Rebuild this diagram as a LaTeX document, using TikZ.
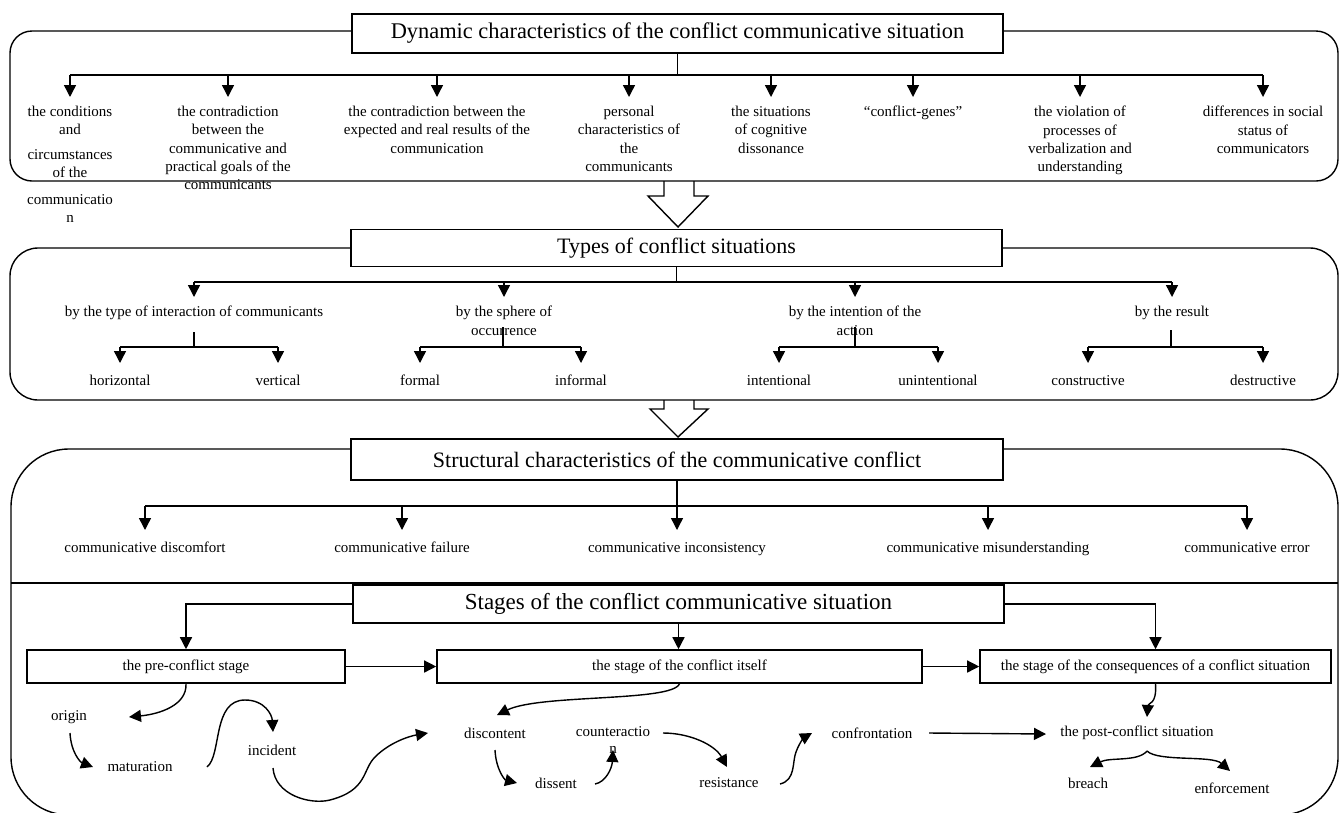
\documentclass[tikz,border=0pt]{standalone}
\usepackage{fontspec}
\setmainfont{Liberation Serif}
\usetikzlibrary{arrows.meta}
\begin{document}
\begin{tikzpicture}[x=1pt,y=-1pt,
  every node/.style={font=\fontsize{15}{18.3}\selectfont, inner sep=0pt},
  frame/.style={line width=1.4pt, rounded corners=#1},
  titlebox/.style={draw, line width=1.6pt, fill=white, minimum width=651pt, minimum height=39pt, font=\fontsize{22}{26}\selectfont},
  stagebox/.style={draw, line width=1.6pt, fill=white, minimum height=33pt},
  item/.style={align=center, anchor=north, inner ysep=9pt},
  leaf/.style={anchor=north, inner ysep=12pt},
  word/.style={align=center},
  conn/.style={line width=1.4pt},
  arr/.style={line width=1.4pt, -{Triangle[width=12pt,length=12pt]}},
  hollow/.style={line width=1.4pt},
]
\useasboundingbox (0,0) rectangle (1340,812);

% ---------- frames ----------
\draw[frame=22] (10,31) rectangle (1338,181);
\draw[frame=28] (10,248) rectangle (1338,400);
\draw[frame=58] (11,449) rectangle (1338,815);
\draw[conn] (11,583) -- (1338,583);

% ---------- hollow arrows ----------
\draw[hollow] (664,181) -- (664,196) -- (648,196) -- (678,227) -- (708,196) -- (694,196) -- (694,181);
\draw[hollow] (664,400) -- (664,409) -- (650,409) -- (678,437) -- (708,409) -- (694,409) -- (694,400);

% ---------- section 1 ----------
\node[titlebox, font=\fontsize{22.4}{26}\selectfont] (T1) at (677.5,33.5) {Dynamic characteristics of the conflict communicative situation};
\node[item] (d1) at (70,97) {the conditions\\ and\\[6pt] circumstances\\ of the\\[8.5pt] communicatio\\ n};
\node[item] (d2) at (228,97) {the contradiction\\ between the\\ communicative and\\ practical goals of the\\ communicants};
\node[item] (d3) at (437,97) {the contradiction between the\\ expected and real results of the\\ communication};
\node[item] (d4) at (629,97) {personal\\ characteristics of\\ the\\ communicants};
\node[item] (d5) at (771,97) {the situations\\ of cognitive\\ dissonance};
\node[item] (d6) at (913,97) {“conflict-genes”};
\node[item] (d7) at (1080,97) {the violation of\\ processes of\\ verbalization and\\ understanding};
\node[item] (d8) at (1263,97) {differences in social\\ status of\\ communicators};
\coordinate (bus1) at (677.5,75);
\draw[conn] (T1.south) -- (bus1);
\draw[conn] (bus1 -| d1.north) -- (bus1 -| d8.north);
\foreach \i in {1,...,8} \draw[arr] (bus1 -| d\i.north) -- (d\i.north);

% ---------- section 2 ----------
\node[titlebox, minimum height=37pt] (T2) at (676.5,248) {Types of conflict situations};
\node[item] (c1) at (194,297) {by the type of interaction of communicants};
\node[item] (c2) at (504,297) {by the sphere of\\ occurrence};
\node[item] (c3) at (855,297) {by the intention of the\\ action};
\node[item] (c4) at (1172,297) {by the result};
\coordinate (bus2) at (677,282);
\draw[conn] (T2.south) -- (T2.south |- bus2);
\draw[conn] (bus2 -| c1.north) -- (bus2 -| c4.north);
\foreach \i in {1,...,4} \draw[arr] (bus2 -| c\i.north) -- (c\i.north);

\node[leaf] (h1) at (120,363) {horizontal};
\node[leaf] (h2) at (278,363) {vertical};
\node[leaf] (h3) at (420,363) {formal};
\node[leaf] (h4) at (581,363) {informal};
\node[leaf] (h5) at (779,363) {intentional};
\node[leaf] (h6) at (938,363) {unintentional};
\node[leaf] (h7) at (1088,363) {constructive};
\node[leaf] (h8) at (1263,363) {destructive};
\coordinate (sb) at (0,347);
\coordinate (j1) at (194,332);
\coordinate (j2) at (503,327);
\coordinate (j3) at (855,327);
\coordinate (j4) at (1171,330);
\foreach \j/\a/\b in {1/1/2,2/3/4,3/5/6,4/7/8}{
  \draw[conn] (j\j) -- (j\j |- sb);
  \draw[conn] (h\a.north |- sb) -- (h\b.north |- sb);
  \draw[arr] (h\a.north |- sb) -- (h\a.north);
  \draw[arr] (h\b.north |- sb) -- (h\b.north);
}

% ---------- section 3 ----------
\node[titlebox, minimum width=652pt, minimum height=41pt] (T3) at (677,459.5) {Structural characteristics of the communicative conflict};
\node[leaf] (s1) at (145,530) {communicative discomfort};
\node[leaf] (s2) at (402,530) {communicative failure};
\node[leaf] (s3) at (677,530) {communicative inconsistency};
\node[leaf] (s4) at (988,530) {communicative misunderstanding};
\node[leaf] (s5) at (1247,530) {communicative error};
\coordinate (bus3) at (677,506);
\draw[conn] (T3.south) -- (bus3);
\draw[conn] (bus3 -| s1.north) -- (bus3 -| s5.north);
\foreach \i in {1,...,5} \draw[arr] (bus3 -| s\i.north) -- (s\i.north);

% ---------- section 4 : stages ----------
\node[titlebox, minimum height=38pt, font=\fontsize{23}{27}\selectfont] (T4) at (678.5,604) {Stages of the conflict communicative situation};
\node[stagebox, minimum width=318pt] (P1) at (186,666.5) {the pre-conflict stage};
\node[stagebox, minimum width=485pt] (P2) at (679.5,666.5) {the stage of the conflict itself};
\node[stagebox, minimum width=351pt] (P3) at (1155.5,666.5) {the stage of the consequences of a conflict situation};
\draw[arr] (T4.west) -| (P1.north);
\draw[arr] (T4.south) -- (T4.south |- P2.north);
\draw[arr] (T4.east) -| (P3.north);
\draw[arr] (P1.east) -- (P2.west);
\draw[arr] (P2.east) -- (P3.west);

\node[word] (origin) at (69,717) {origin};
\node[word] (matur) at (140,767) {maturation};
\node[word] (incid) at (272,750) {incident};
\node[word] (discont) at (495,733) {discontent};
\node[word] (counter) at (613,740) {counteractio\\[-1.3pt] n};
\node[word] (dissent) at (556,783) {dissent};
\node[word] (resist) at (729,783) {resistance};
\node[word] (confr) at (872,733) {confrontation};
\node[word] (post) at (1137,733) {the post-conflict situation};
\node[word] (breach) at (1088,783) {breach};
\node[word] (enforce) at (1232,788) {enforcement};

\coordinate (aOrig) at (129,717);
\coordinate (bS) at (70,733);
\coordinate (bE) at (93,767);
\coordinate (cS) at (207,767);
\coordinate (cE) at (273,732);
\coordinate (dS) at (273,768);
\coordinate (dE) at (428,733);
\coordinate (eE) at (497,715);
\coordinate (fS) at (495,750);
\coordinate (fE) at (517,783);
\coordinate (gS) at (595,784);
\coordinate (gE) at (613,750);
\coordinate (hS) at (663,733);
\coordinate (hE) at (727,767);
\coordinate (iS) at (780,784);
\coordinate (iE) at (812,733);
\coordinate (jS) at (929,733);
\coordinate (jE) at (1046,734);
\coordinate (kE) at (1147,717);
\coordinate (lS) at (1147,751);
\coordinate (lE1) at (1090,767);
\coordinate (lE2) at (1230,771);

\draw[arr] (P1.south) .. controls (187,705) and (160,714) .. (aOrig);
\draw[arr] (bS) .. controls (71,752) and (80,762) .. (bE);
\draw[arr] (cS) .. controls (222,755) and (212,700) .. (245,700) .. controls (265,700) and (272,715) .. (cE);
\draw[arr] (dS) .. controls (275,795) and (310,805) .. (330,800) .. controls (368,790) and (362,770) .. (375,757) .. controls (390,742) and (410,736) .. (dE);
\draw[arr] (P2.south) .. controls (672,702) and (540,694) .. (eE);
\draw[arr] (fS) .. controls (496,770) and (505,780) .. (fE);
\draw[arr] (gS) .. controls (606,782) and (612,768) .. (gE);
\draw[arr] (hS) .. controls (690,733) and (715,745) .. (hE);
\draw[arr] (iS) .. controls (796,780) and (792,762) .. (796,752) .. controls (800,741) and (805,737) .. (iE);
\draw[arr] (jS) -- (jE);
\draw[arr] (P3.south) .. controls (1157,705) and (1148,703) .. (kE);
\draw[arr] (lS) .. controls (1138,762) and (1110,757) .. (lE1);
\draw[arr] (lS) .. controls (1158,762) and (1212,755) .. (lE2);
\end{tikzpicture}
\end{document}
